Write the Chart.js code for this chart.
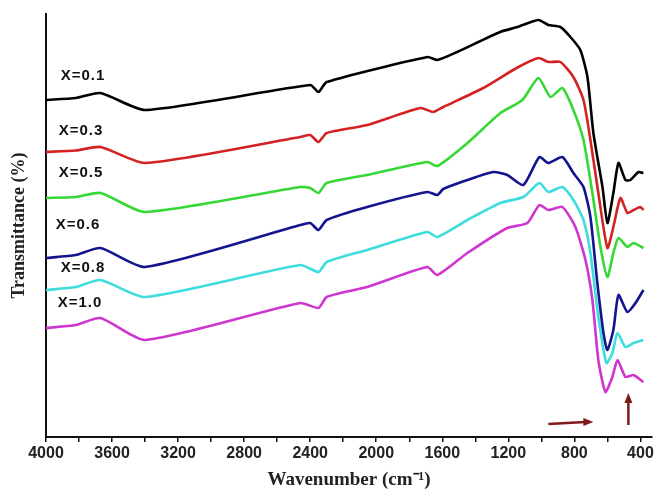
<!DOCTYPE html>
<html>
<head>
<meta charset="utf-8">
<script src="https://cdn.jsdelivr.net/npm/chart.js@4/dist/chart.umd.min.js"></script>
<style>
  html, body { margin: 0; padding: 0; background: #fff; }
  #box { width: 655px; height: 489px; }
</style>
</head>
<body>
<div id="box"><canvas id="ftir"></canvas></div>
<script>
// FTIR spectra, wavenumber (cm-1) and transmittance (arbitrary offset units)
const waveX01  = [4000, 3820, 3670, 3400, 2400, 2350, 2300, 1690, 1630, 1510, 1250, 1145, 1018, 958, 885, 824, 764, 721, 685, 630, 600, 564, 533, 491, 461, 412, 382];
const transX01 = [67.4, 67.8, 68.8, 65.4, 70.4, 69.0, 71.0, 76.0, 75.4, 77.0, 81.0, 82.0, 83.4, 82.4, 82.0, 80.0, 77.4, 72.0, 60.8, 50.0, 42.8, 48.8, 54.8, 51.4, 51.4, 53.0, 52.8];

const waveX03  = [4000, 3820, 3670, 3400, 2460, 2400, 2350, 2300, 2055, 1733, 1655, 1594, 1352, 1150, 1018, 958, 885, 806, 745, 703, 655, 600, 564, 521, 479, 442, 400, 382];
const transX03 = [57.0, 57.3, 58.0, 54.8, 60.0, 60.4, 59.0, 60.8, 62.4, 65.8, 65.0, 66.0, 69.8, 73.8, 75.8, 75.0, 75.0, 72.0, 67.4, 59.4, 48.8, 37.8, 42.0, 47.8, 44.8, 45.4, 46.0, 45.4];

const waveX05  = [4000, 3820, 3670, 3400, 2460, 2400, 2350, 2300, 2055, 1690, 1630, 1448, 1248, 1115, 1018, 945, 873, 806, 745, 691, 642, 600, 564, 533, 479, 442, 382];
const transX05 = [47.8, 48.0, 48.8, 45.0, 50.0, 49.8, 48.8, 50.8, 52.4, 55.0, 54.2, 58.8, 64.8, 67.4, 71.8, 68.0, 69.8, 65.4, 59.4, 48.8, 38.0, 32.0, 36.8, 39.8, 38.0, 38.8, 37.8];

const waveX06  = [4000, 3820, 3670, 3400, 2460, 2400, 2350, 2300, 2055, 1691, 1630, 1594, 1448, 1291, 1206, 1109, 1012, 958, 873, 806, 745, 703, 661, 624, 600, 564, 533, 479, 430, 382];
const transX06 = [35.8, 36.4, 37.8, 34.0, 42.4, 42.8, 41.4, 43.4, 46.0, 49.0, 48.4, 49.6, 51.4, 53.0, 52.4, 50.4, 56.0, 54.8, 56.0, 52.8, 50.0, 44.0, 30.8, 20.8, 17.4, 21.4, 28.4, 25.0, 26.8, 29.4];

const waveX08  = [4000, 3820, 3670, 3400, 2460, 2350, 2300, 2055, 1691, 1630, 1448, 1248, 1109, 1012, 958, 873, 806, 745, 703, 655, 606, 570, 539, 491, 442, 382];
const transX08 = [29.4, 30.0, 31.4, 28.0, 34.4, 33.0, 35.0, 37.4, 41.0, 40.0, 43.4, 46.8, 48.0, 50.8, 49.0, 50.0, 47.4, 43.4, 36.8, 24.0, 14.8, 16.8, 20.8, 18.0, 18.8, 19.4];

const waveX10  = [4000, 3820, 3670, 3400, 2460, 2350, 2300, 2055, 1691, 1630, 1448, 1206, 1085, 1012, 958, 873, 794, 733, 691, 655, 612, 570, 539, 491, 442, 382];
const transX10 = [21.8, 22.4, 23.8, 19.4, 26.8, 25.8, 28.0, 30.0, 34.0, 32.4, 36.8, 41.8, 42.8, 46.4, 45.4, 46.0, 42.0, 35.4, 27.4, 15.4, 9.0, 12.0, 15.4, 12.0, 12.4, 11.0];

const seriesNames  = ['X=0.1', 'X=0.3', 'X=0.5', 'X=0.6', 'X=0.8', 'X=1.0'];
const seriesColors = ['#000000', '#d42222', '#35d835', '#14148f', '#3edcdc', '#cf35cf'];

// where the series names sit (wavenumber, transmittance)
const labelWave  = [3776, 3788, 3788, 3806, 3776, 3794];
const labelTrans = [72.2, 61.2, 52.8, 42.4, 33.8, 26.8];

// x axis ticks
const tickValues = [400, 600, 800, 1000, 1200, 1400, 1600, 1800, 2000, 2200, 2400, 2600, 2800, 3000, 3200, 3400, 3600, 3800, 4000];

// the two arrows near the bottom
const arrowH = { fromWave: 958, toWave: 685, trans: 2.8 };
const arrowV = { wave: 473, fromTrans: 2.4, toTrans: 8.8 };


function toPoints(xs, ys) {
    return xs.map((x, i) => ({ x: x, y: ys[i] }));
}

const allWaves  = [waveX01, waveX03, waveX05, waveX06, waveX08, waveX10];
const allTrans  = [transX01, transX03, transX05, transX06, transX08, transX10];

const datasets = seriesNames.map((name, i) => ({
    label: name,
    data: toPoints(allWaves[i], allTrans[i]),
    borderColor: seriesColors[i],
    backgroundColor: seriesColors[i],
    borderWidth: 2.6,
    pointRadius: 0,
    tension: 0.2,
    fill: false
}));

//scritte X=.. e frecce
const annotPlugin = {
    id: 'annot',
    afterDatasetsDraw(chart) {
        const ctx = chart.ctx;
        const xs = chart.scales.x;
        const ys = chart.scales.y;

        ctx.save();
        ctx.fillStyle = '#111';
        ctx.font = 'bold 15px "Liberation Sans", Arial, sans-serif';
        ctx.letterSpacing = '1px';
        ctx.textAlign = 'center';
        ctx.textBaseline = 'middle';
        seriesNames.forEach((name, i) => {
            ctx.fillText(name, xs.getPixelForValue(labelWave[i]), ys.getPixelForValue(labelTrans[i]));
        });
        ctx.restore();

        const red = '#7d1a1a';
        ctx.save();
        ctx.strokeStyle = red;
        ctx.fillStyle = red;
        ctx.lineWidth = 2.5;

        // horizontal arrow
        const hx1 = xs.getPixelForValue(arrowH.fromWave);
        const hx2 = xs.getPixelForValue(arrowH.toWave);
        const hy = ys.getPixelForValue(arrowH.trans);
        ctx.beginPath();
        ctx.moveTo(hx1, hy + 1);
        ctx.lineTo(hx2 - 8, hy - 1);
        ctx.stroke();
        ctx.beginPath();
        ctx.moveTo(hx2, hy - 1);
        ctx.lineTo(hx2 - 10, hy - 5);
        ctx.lineTo(hx2 - 10, hy + 3);
        ctx.closePath();
        ctx.fill();

        // vertical arrow
        const vx = xs.getPixelForValue(arrowV.wave);
        const vy1 = ys.getPixelForValue(arrowV.fromTrans);
        const vy2 = ys.getPixelForValue(arrowV.toTrans);
        ctx.beginPath();
        ctx.moveTo(vx, vy1);
        ctx.lineTo(vx, vy2 + 8);
        ctx.stroke();
        ctx.beginPath();
        ctx.moveTo(vx, vy2);
        ctx.lineTo(vx - 4, vy2 + 10);
        ctx.lineTo(vx + 4, vy2 + 10);
        ctx.closePath();
        ctx.fill();
        ctx.restore();
    }
};

new Chart(document.getElementById('ftir').getContext('2d'), {
    type: 'line',
    data: { datasets: datasets },
    options: {
        responsive: true,
        maintainAspectRatio: false,
        animation: false,
        events: [],
        layout: { padding: { top: 14, right: 3, left: 0, bottom: 0 } },
        plugins: { legend: { display: false }, tooltip: { enabled: false } },
        scales: {
            x: {
                type: 'linear',
                reverse: true,
                min: 330,
                max: 4000,
                afterBuildTicks: axis => {
                    axis.ticks = tickValues.map(v => ({ value: v }));
                },
                afterFit: axis => { axis.height = 52; },
                ticks: {
                    autoSkip: false,
                    maxRotation: 0,
                    padding: 2,
                    color: '#222',
                    font: { family: '"Liberation Sans", Arial, sans-serif', size: 16, weight: 'bold' },
                    callback: v => (v % 400 === 0 ? String(v) : '')
                },
                grid: {
                    display: true,
                    drawOnChartArea: false,
                    drawTicks: true,
                    tickLength: 5,
                    color: '#111',
                    lineWidth: 1.5
                },
                border: { display: true, color: '#111', width: 2 },
                title: {
                    display: true,
                    text: 'Wavenumber (cm\u207B\u00B9)',
                    color: '#222',
                    font: { family: '"Liberation Serif", "Times New Roman", serif', size: 19, weight: 'bold' },
                    padding: { top: 0, bottom: -2 }
                }
            },
            y: {
                type: 'linear',
                min: 0,
                max: 84.6,
                afterFit: axis => { axis.width = 46; },
                ticks: { display: false },
                grid: { display: true, drawOnChartArea: false, drawTicks: false },
                border: { display: true, color: '#111', width: 2 },
                title: {
                    display: true,
                    text: 'Transmittance (%)',
                    color: '#222',
                    font: { family: '"Liberation Serif", "Times New Roman", serif', size: 18, weight: 'bold' },
                    padding: { top: 9, bottom: 0 }
                }
            }
        }
    },
    plugins: [annotPlugin]
});
</script>
</body>
</html>
